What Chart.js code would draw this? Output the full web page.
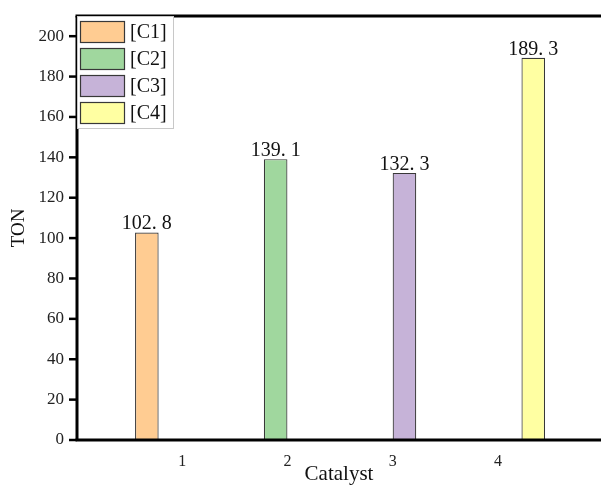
<!DOCTYPE html>
<html>
<head>
<meta charset="utf-8">
<script src="https://cdn.jsdelivr.net/npm/chart.js@4.4.0/dist/chart.umd.min.js"></script>
<style>
html,body{margin:0;padding:0;background:#fff;}
#wrap{width:601px;height:485px;position:relative;}
</style>
</head>
<body>
<div id="wrap"><canvas id="c" width="601" height="485"></canvas></div>
<script>
// ---- data ----
const categories = [1, 2, 3, 4];
const seriesLabels = ['[C1]', '[C2]', '[C3]', '[C4]'];
const tonValues = [102.8, 139.1, 132.3, 189.3];
const barColors = ['#FFCC92', '#A0D79E', '#C6B3D8', '#FFFFA2'];
const yTickValues = [0, 20, 40, 60, 80, 100, 120, 140, 160, 180, 200];

const FONT = "'Liberation Serif', 'DejaVu Serif', serif";

const datasets = categories.map((c, i) => ({
  label: seriesLabels[i],
  data: [{x: c, y: tonValues[i]}],
  backgroundColor: barColors[i],
  borderColor: '#383838',
  borderWidth: 1.2,
  barPercentage: 1.0,
  categoryPercentage: 0.915
}));

const framePlugin = {
  id: 'frame',
  afterDraw(chart) {
    const ctx = chart.ctx;
    const a = chart.chartArea;
    const ys = chart.scales.y;
    ctx.save();
    ctx.strokeStyle = '#000';
    ctx.lineWidth = 2.5;
    ys.ticks.forEach(t => {
      const py = ys.getPixelForValue(t.value);
      const major = yTickValues.includes(t.value);
      const len = major ? 8 : 4.5;
      ctx.beginPath();
      ctx.moveTo(a.left - len, py);
      ctx.lineTo(a.left, py);
      ctx.stroke();
    });
    ctx.lineWidth = 3;
    ctx.beginPath();
    ctx.moveTo(a.left, a.top);
    ctx.lineTo(a.left, a.bottom);
    ctx.stroke();
    ctx.beginPath();
    ctx.moveTo(a.left - 1.5, a.bottom);
    ctx.lineTo(a.right, a.bottom);
    ctx.stroke();
    ctx.beginPath();
    ctx.moveTo(a.left - 1.5, a.top);
    ctx.lineTo(a.right, a.top);
    ctx.stroke();
    ctx.restore();
  }
};

const labelPlugin = {
  id: 'valueLabels',
  afterDatasetsDraw(chart) {
    const ctx = chart.ctx;
    ctx.save();
    ctx.font = '20px ' + FONT;
    ctx.fillStyle = '#111';
    ctx.textAlign = 'center';
    ctx.textBaseline = 'alphabetic';
    chart.data.datasets.forEach((ds, i) => {
      const meta = chart.getDatasetMeta(i);
      meta.data.forEach((el, j) => {
        const v = ds.data[j].y;
        const txt = v.toFixed(1).replace('.', '. ');
        ctx.fillText(txt, el.x, el.y - 3);
      });
    });
    ctx.restore();
  }
};

const legendPlugin = {
  id: 'innerLegend',
  afterDraw(chart) {
    const ctx = chart.ctx;
    const a = chart.chartArea;
    const x0 = a.left + 0.5, y0 = a.top + 0.5;
    const w = 96, h = 112;
    ctx.save();
    ctx.fillStyle = '#fff';
    ctx.fillRect(x0, y0, w, h);
    ctx.strokeStyle = '#c8c8c8';
    ctx.lineWidth = 1;
    ctx.strokeRect(x0, y0, w, h);
    ctx.font = '20px ' + FONT;
    ctx.textBaseline = 'middle';
    ctx.textAlign = 'left';
    chart.data.datasets.forEach((ds, i) => {
      const sy = a.top + 5 + i * 27;
      ctx.fillStyle = ds.backgroundColor;
      ctx.fillRect(a.left + 3.5, sy + 0.5, 44, 21);
      ctx.strokeStyle = '#383838';
      ctx.lineWidth = 1.2;
      ctx.strokeRect(a.left + 3.5, sy + 0.5, 44, 21);
      ctx.fillStyle = '#111';
      ctx.fillText(ds.label, a.left + 53, sy + 12);
    });
    ctx.restore();
  }
};

new Chart(document.getElementById('c'), {
  type: 'bar',
  data: { datasets },
  options: {
    responsive: false,
    animation: false,
    layout: { padding: { top: 16, right: 0, left: 0, bottom: 0 } },
    plugins: { legend: { display: false }, tooltip: { enabled: false } },
    scales: {
      x: {
        type: 'linear',
        offset: false,
        min: 0,
        max: 4.98,
        grid: { display: false, drawTicks: false, offset: false },
        border: { display: false },
        ticks: {
          stepSize: 1,
          padding: 12,
          color: '#222',
          font: { family: FONT, size: 16 },
          callback: (v) => categories.includes(v) ? String(v) : ''
        },
        title: {
          display: true,
          text: 'Catalyst',
          color: '#111',
          font: { family: FONT, size: 21, lineHeight: 1 },
          padding: { top: 0, bottom: 0 }
        },
        afterFit: (s) => { s.height = 45; s.paddingRight = 0; s.paddingLeft = 0; }
      },
      y: {
        min: 0,
        max: 210,
        grid: { display: true, drawOnChartArea: false, drawTicks: true, tickLength: 8, tickColor: 'rgba(0,0,0,0)' },
        border: { display: false },
        ticks: {
          stepSize: 10,
          padding: 5,
          color: '#222',
          font: { family: FONT, size: 17 },
          callback: (v) => yTickValues.includes(v) ? String(v) : ''
        },
        title: {
          display: true,
          text: 'TON',
          color: '#111',
          font: { family: FONT, size: 19, lineHeight: 1 },
          padding: { top: 10, bottom: 0 }
        },
        afterFit: (s) => { s.width = 77; s.paddingTop = 0; s.paddingBottom = 0; }
      }
    }
  },
  plugins: [framePlugin, labelPlugin, legendPlugin]
});
</script>
</body>
</html>
